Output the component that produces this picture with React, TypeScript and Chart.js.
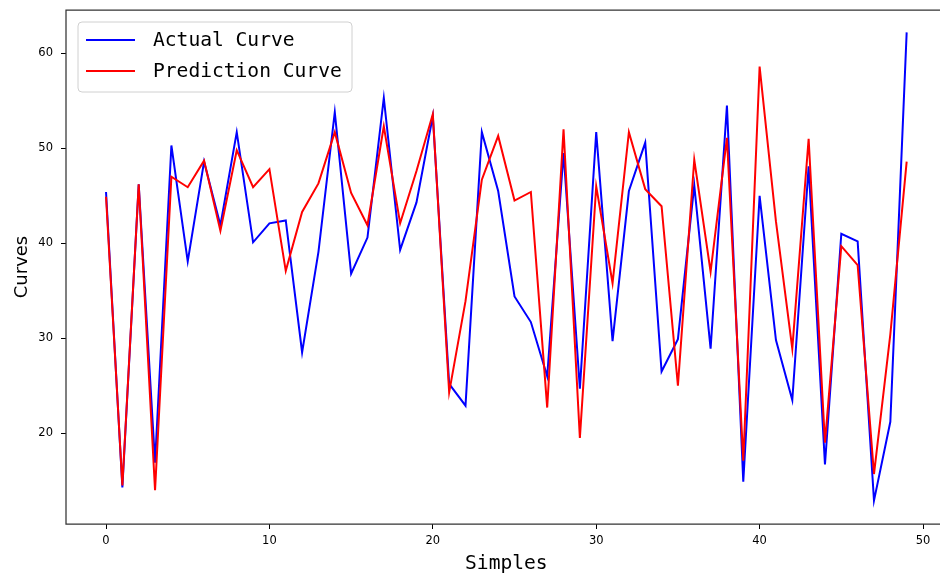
import React, { useEffect, useRef } from "react";
import { Chart, registerables } from "chart.js";

Chart.register(...registerables);

const samples: number[] = Array.from({ length: 50 }, (_, i) => i);

const actualCurve: number[] = [
  45.4, 14.3, 46.2, 16.9, 50.3, 38.1, 48.6, 41.9, 51.7, 40.1,
  42.1, 42.4, 28.5, 39.1, 53.8, 36.8, 40.6, 55.3, 39.3, 44.3,
  53.4, 25.2, 22.9, 51.7, 45.5, 34.4, 31.7, 26.0, 49.5, 24.7,
  51.7, 29.7, 45.5, 50.6, 26.5, 29.9, 46.1, 28.9, 54.5, 14.9,
  45.0, 29.8, 23.5, 48.1, 16.7, 41.0, 40.2, 12.9, 21.2, 62.2,
];

const predictionCurve: number[] = [
  44.9, 14.5, 46.2, 14.0, 47.0, 45.9, 48.7, 41.3, 49.8, 45.9,
  47.8, 37.1, 43.3, 46.3, 51.7, 45.3, 41.9, 52.3, 42.1, 47.6,
  53.6, 24.3, 33.9, 46.7, 51.3, 44.5, 45.4, 22.7, 52.0, 19.5,
  46.0, 35.8, 51.7, 45.7, 43.9, 25.0, 48.8, 37.0, 51.1, 17.1,
  58.6, 42.3, 28.9, 51.0, 19.0, 39.7, 37.7, 15.7, 30.4, 48.6,
];

const xTickValues: number[] = [0, 10, 20, 30, 40, 50];
const yTickValues: number[] = [20, 30, 40, 50, 60];

const X_MIN = -2.45;
const X_MAX = 51.45;
const Y_MIN = 10.44;
const Y_MAX = 64.56;

const framePlugin = {
  id: "frameAndLegend",
  afterDatasetsDraw(chart: any) {
    const { ctx, chartArea } = chart;
    const { left, right, top, bottom } = chartArea;
    ctx.save();
    ctx.strokeStyle = "#333333";
    ctx.lineWidth = 1.25;
    ctx.beginPath();
    ctx.moveTo(right, top);
    ctx.lineTo(left, top);
    ctx.lineTo(left, bottom);
    ctx.lineTo(right, bottom);
    ctx.stroke();

    // legend
    const bx = left + 12;
    const by = top + 12;
    const bw = 274;
    const bh = 70;
    const r = 4;
    ctx.beginPath();
    ctx.moveTo(bx + r, by);
    ctx.lineTo(bx + bw - r, by);
    ctx.quadraticCurveTo(bx + bw, by, bx + bw, by + r);
    ctx.lineTo(bx + bw, by + bh - r);
    ctx.quadraticCurveTo(bx + bw, by + bh, bx + bw - r, by + bh);
    ctx.lineTo(bx + r, by + bh);
    ctx.quadraticCurveTo(bx, by + bh, bx, by + bh - r);
    ctx.lineTo(bx, by + r);
    ctx.quadraticCurveTo(bx, by, bx + r, by);
    ctx.closePath();
    ctx.fillStyle = "rgba(255,255,255,0.8)";
    ctx.fill();
    ctx.strokeStyle = "#d0d0d0";
    ctx.lineWidth = 1;
    ctx.stroke();

    ctx.font = "19.6px 'DejaVu Sans Mono'";
    ctx.textBaseline = "middle";
    ctx.textAlign = "left";
    chart.data.datasets.forEach((ds: any, i: number) => {
      const y = by + 18 + i * 31;
      ctx.beginPath();
      ctx.strokeStyle = ds.borderColor;
      ctx.lineWidth = 2;
      ctx.moveTo(bx + 8, y);
      ctx.lineTo(bx + 57, y);
      ctx.stroke();
      ctx.fillStyle = "#000000";
      ctx.fillText(ds.label, bx + 75, y + 1);
    });
    ctx.restore();
  },
};

const zeroPadding = (scale: any) => {
  scale.paddingTop = 0;
  scale.paddingBottom = 0;
  scale.paddingLeft = 0;
  scale.paddingRight = 0;
};

export default function App() {
  const canvasRef = useRef<HTMLCanvasElement | null>(null);

  useEffect(() => {
    if (!canvasRef.current) return;
    const chart = new Chart(canvasRef.current, {
      type: "line",
      data: {
        labels: samples,
        datasets: [
          {
            label: "Actual Curve",
            data: samples.map((x, i) => ({ x, y: actualCurve[i] })),
            borderColor: "#0000ff",
            backgroundColor: "#0000ff",
            borderWidth: 2,
            pointRadius: 0,
            tension: 0,
            fill: false,
            order: 1,
          },
          {
            label: "Prediction Curve",
            data: samples.map((x, i) => ({ x, y: predictionCurve[i] })),
            borderColor: "#ff0000",
            backgroundColor: "#ff0000",
            borderWidth: 2,
            pointRadius: 0,
            tension: 0,
            fill: false,
            order: 0,
          },
        ],
      },
      options: {
        animation: false,
        responsive: false,
        maintainAspectRatio: false,
        layout: { padding: { top: 10, left: 0, right: 13.3, bottom: 0 } },
        plugins: {
          legend: { display: false },
          tooltip: { enabled: false },
        },
        scales: {
          x: {
            type: "linear",
            min: X_MIN,
            max: X_MAX,
            afterBuildTicks: (scale: any) => {
              scale.ticks = xTickValues.map((v) => ({ value: v }));
            },
            afterFit: (scale: any) => {
              scale.height = 53;
              zeroPadding(scale);
            },
            grid: {
              display: true,
              drawOnChartArea: false,
              drawTicks: true,
              tickLength: 5,
              color: "#000000",
              lineWidth: 1,
            },
            border: { display: false },
            ticks: {
              padding: 5,
              maxRotation: 0,
              autoSkip: false,
              color: "#000000",
              font: { family: "'DejaVu Sans'", size: 11.5 },
            },
            title: {
              display: true,
              text: "Simples",
              color: "#000000",
              font: { family: "'DejaVu Sans Mono'", size: 19.6, lineHeight: 1 },
              padding: { top: 0, bottom: 3 },
            },
          },
          y: {
            type: "linear",
            min: Y_MIN,
            max: Y_MAX,
            afterBuildTicks: (scale: any) => {
              scale.ticks = yTickValues.map((v) => ({ value: v }));
            },
            afterFit: (scale: any) => {
              scale.width = 66;
              zeroPadding(scale);
            },
            grid: {
              display: true,
              drawOnChartArea: false,
              drawTicks: true,
              tickLength: 5,
              color: "#000000",
              lineWidth: 1,
            },
            border: { display: false },
            ticks: {
              padding: 8,
              autoSkip: false,
              color: "#000000",
              font: { family: "'DejaVu Sans'", size: 11.5 },
            },
            title: {
              display: true,
              text: "Curves",
              color: "#000000",
              font: { family: "'DejaVu Sans'", size: 18, lineHeight: 1 },
              padding: { top: 13, bottom: 0 },
            },
          },
        },
      },
      plugins: [framePlugin],
    });
    return () => chart.destroy();
  }, []);

  return (
    <div style={{ position: "fixed", left: 0, top: 0, width: 940, height: 577, overflow: "hidden", background: "#ffffff" }}>
      <canvas ref={canvasRef} width={960} height={577} style={{ display: "block", width: 960, height: 577 }} />
    </div>
  );
}
